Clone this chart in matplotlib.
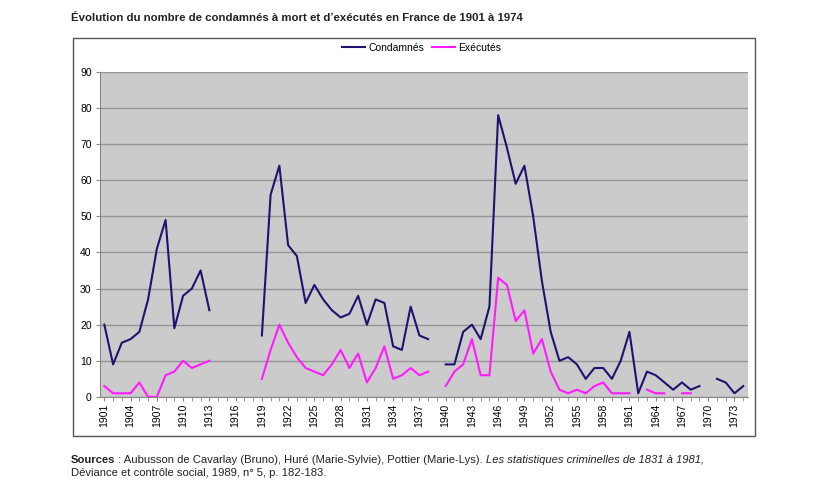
import numpy as np
import matplotlib
matplotlib.use("Agg")
import matplotlib.pyplot as plt
from matplotlib.patches import Rectangle

plt.rcParams['font.family'] = ['Liberation Sans', 'DejaVu Sans']

# data (None = no value that year)
years = list(range(1901, 1975))
condamnes = [20, 9, 15, 16, 18, 27, 41, 49, 19, 28, 30, 35, 24,
             None, None, None, None, None,
             17, 56, 64, 42, 39, 26, 31, 27, 24, 22, 23, 28, 20, 27, 26, 14, 13, 25, 17, 16,
             None,
             9, 9, 18, 20, 16, 25, 78, 69, 59, 64, 50, 32, 18, 10, 11, 9, 5, 8, 8, 5, 10, 18, 1, 7, 6, 4, 2, 4, 2, 3,
             None,
             5, 4, 1, 3]
executes = [3, 1, 1, 1, 4, 0, 0, 6, 7, 10, 8, 9, 10,
            None, None, None, None, None,
            5, 13, 20, 15, 11, 8, 7, 6, 9, 13, 8, 12, 4, 8, 14, 5, 6, 8, 6, 7,
            None,
            3, 7, 9, 16, 6, 6, 33, 31, 21, 24, 12, 16, 7, 2, 1, 2, 1, 3, 4, 1, 1, 1,
            None,
            2, 1, 1,
            None,
            1, 1,
            None, None, None, None, None, None]
tick_years = list(range(1901, 1975, 3))
yticks = list(range(0, 91, 10))

cond = np.array([np.nan if v is None else v for v in condamnes], dtype=float)
exe = np.array([np.nan if v is None else v for v in executes], dtype=float)

fig = plt.figure(figsize=(8.4, 5.04), dpi=100)

# outer frame of the chart
fig.patches.append(Rectangle((0.087, 0.135), 0.812, 0.79, transform=fig.transFigure,
                             fill=False, edgecolor='#555555', linewidth=1.0))

ax = fig.add_axes([0.119, 0.2125, 0.771, 0.645])
ax.set_facecolor('#cbcbcb')
ax.plot(years, cond, color='#1c1470', linewidth=1.5, label='Condamnés')
ax.plot(years, exe, color='#ff1aff', linewidth=1.5, label='Exécutés')

ax.set_xlim(1900.5, 1974.5)
ax.set_ylim(0, 90)
ax.set_yticks(yticks)
ax.set_xticks(tick_years)
ax.set_xticks(years, minor=True)
ax.set_xticklabels([str(y) for y in tick_years], rotation=90)
ax.grid(axis='y', color='#959595', linewidth=1.0)
ax.set_axisbelow(True)
ax.tick_params(axis='x', which='both', direction='out', length=3, color='#888888',
               labelsize=7.5, pad=2)
ax.tick_params(axis='y', length=3, color='#888888', labelsize=7.5, pad=3)
for side in ['top', 'right']:
    ax.spines[side].set_visible(False)
ax.spines['left'].set_color('#888888')
ax.spines['bottom'].set_color('#888888')

ax.legend(loc='center', bbox_to_anchor=(0.497, 1.074), ncol=2, frameon=False,
          fontsize=7.5, handlelength=2.2, handletextpad=0.3, columnspacing=0.8)

fig.text(0.084, 0.965, "Évolution du nombre de condamnés à mort et d\u2019exécutés en France de 1901 à 1974",
         fontsize=8.2, fontweight='bold', color='#222222', va='center')

# sources, built piece by piece (bold / normal / italic)
fig.canvas.draw()
r = fig.canvas.get_renderer()
y1 = 0.087
fs = 8.1
t = fig.text(0.084, y1, "Sources", fontsize=fs, fontweight='bold', color='#222222', va='center')
x = t.get_window_extent(r).x1 / fig.bbox.width
t = fig.text(x, y1, " : Aubusson de Cavarlay (Bruno), Huré (Marie-Sylvie), Pottier (Marie-Lys). ",
             fontsize=fs, color='#222222', va='center')
x = t.get_window_extent(r).x1 / fig.bbox.width
fig.text(x, y1, "Les statistiques criminelles de 1831 à 1981,", fontsize=fs, style='italic',
         color='#222222', va='center')
fig.text(0.084, 0.061, "Déviance et contrôle social, 1989, n° 5, p. 182-183.", fontsize=fs,
         color='#222222', va='center')

fig.savefig("out.png", dpi=100)
